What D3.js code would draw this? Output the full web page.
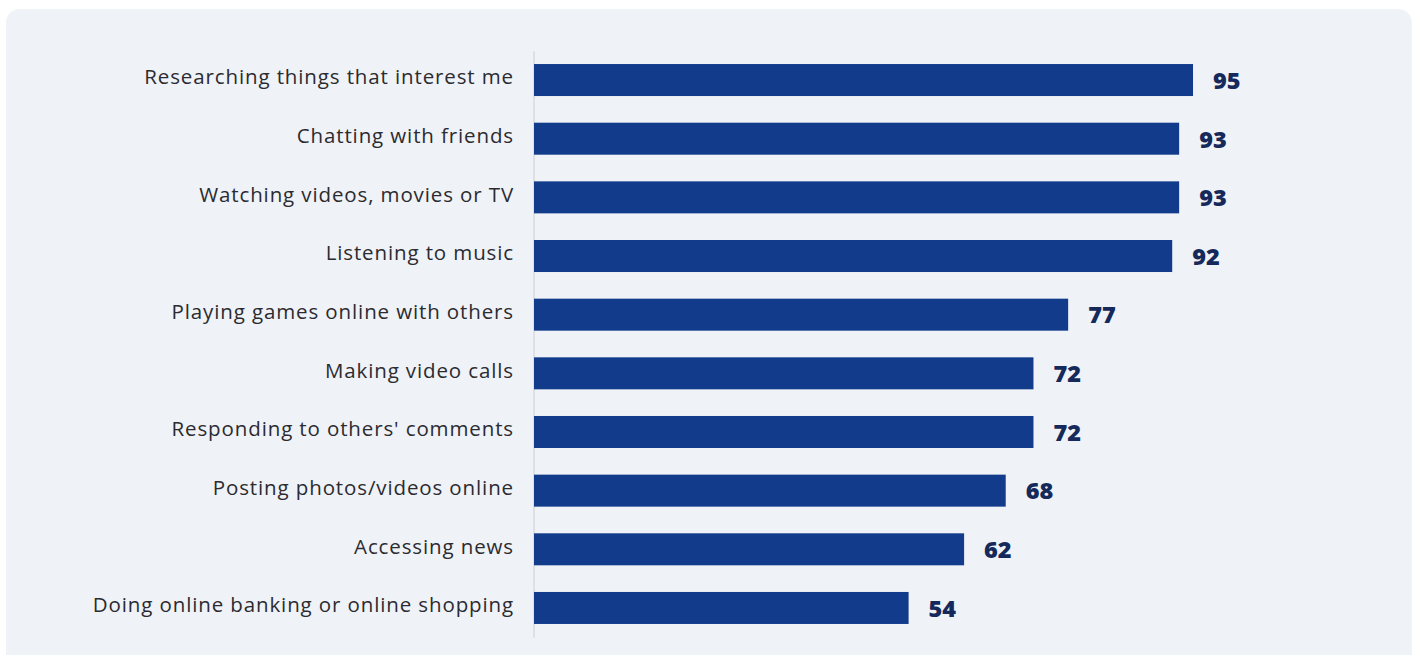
<!DOCTYPE html>
<html>
<head>
<meta charset="utf-8">
<script src="https://cdn.jsdelivr.net/npm/d3@7"></script>
<style>
  html, body { margin: 0; padding: 0; background: #ffffff; }
  svg { display: block; }
</style>
</head>
<body>
<svg id="chart" width="1416" height="655"></svg>
<script>
// Share of respondents doing each activity online (%)
const activities = [
  "Researching things that interest me",
  "Chatting with friends",
  "Watching videos, movies or TV",
  "Listening to music",
  "Playing games online with others",
  "Making video calls",
  "Responding to others' comments",
  "Posting photos/videos online",
  "Accessing news",
  "Doing online banking or online shopping"
];
const shares = [95, 93, 93, 92, 77, 72, 72, 68, 62, 54];

const svg = d3.select("#chart");

// card background
svg.append("rect")
  .attr("x", 6).attr("y", 9)
  .attr("width", 1406).attr("height", 660)
  .attr("rx", 14).attr("ry", 14)
  .attr("fill", "#eff2f7");

const x0 = 534;
const x = d3.scaleLinear().domain([0, 100]).range([x0, x0 + 693.7]);
const y = d3.scaleBand()
  .domain(activities)
  .range([50.7, 637.3])
  .paddingInner(0.4545)
  .paddingOuter(0.2273);

const rows = activities.map((a, i) => ({ label: a, value: shares[i] }));

// category axis (vertical rule + labels)
const axis = svg.append("g")
  .attr("transform", `translate(${x0 - 0.5},0)`)
  .call(d3.axisLeft(y).tickSize(0).tickPadding(19.5));
axis.select(".domain")
  .attr("stroke", "#dcdee4")
  .attr("stroke-width", 1.8);
axis.selectAll("text")
  .attr("fill", "#2b2b30")
  .attr("dy", "0.21em")
  .style("font-family", "'Open Sans', sans-serif")
  .style("font-size", "20.5px")
  .style("letter-spacing", "0.88px");

// bars
svg.append("g").selectAll("rect")
  .data(rows)
  .join("rect")
  .attr("x", x(0))
  .attr("y", d => y(d.label))
  .attr("width", d => x(d.value) - x(0))
  .attr("height", y.bandwidth())
  .attr("fill", "#133b8c");

// value labels
svg.append("g").selectAll("text")
  .data(rows)
  .join("text")
  .attr("x", d => x(d.value) + 20)
  .attr("y", d => y(d.label) + y.bandwidth() / 2)
  .attr("dy", "0.375em")
  .attr("fill", "#15295a")
  .style("font-family", "'Open Sans', sans-serif")
  .style("font-weight", "800")
  .style("font-size", "23.5px")
  .text(d => d.value);
</script>
</body>
</html>
